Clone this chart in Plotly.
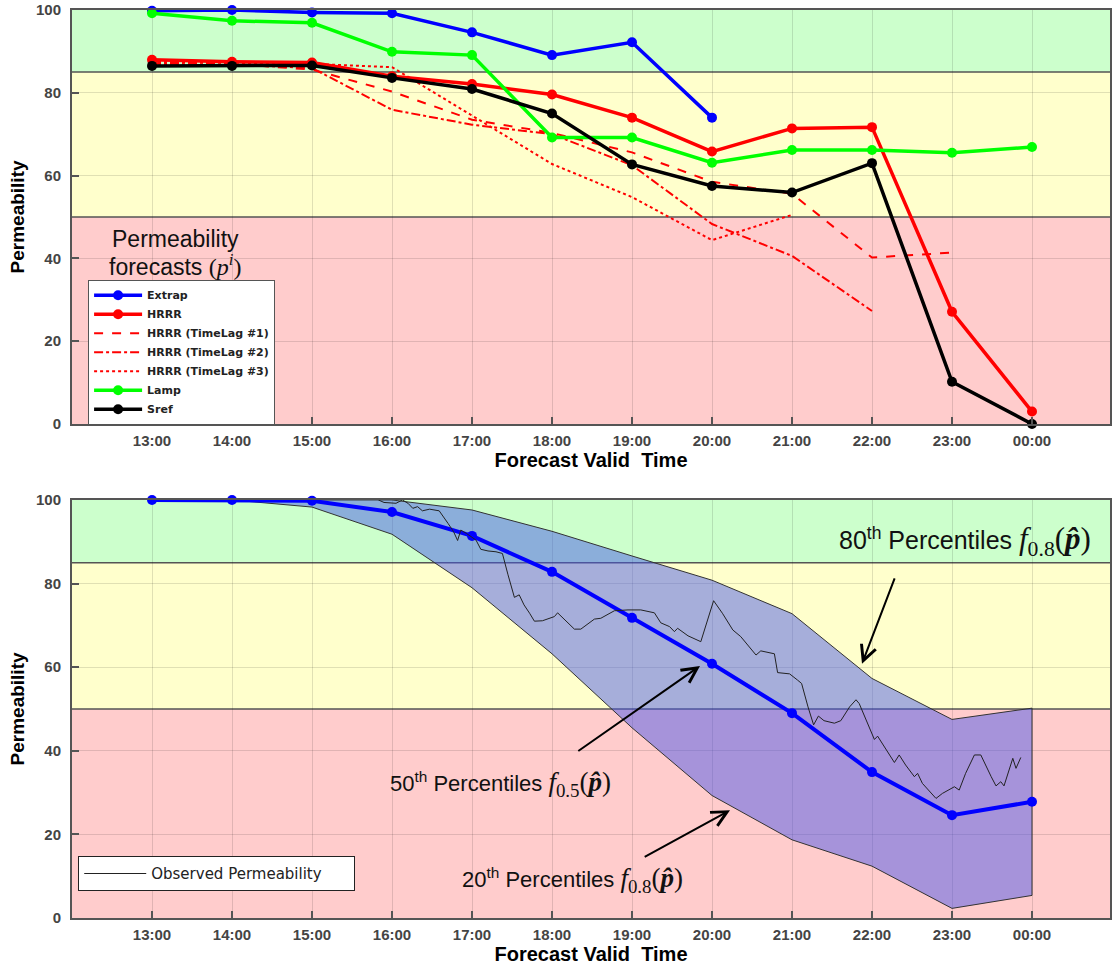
import plotly.graph_objects as go

# ---------------- data ----------------
hours = [13, 14, 15, 16, 17, 18, 19, 20, 21, 22, 23, 24]
tick_labels = ["13:00", "14:00", "15:00", "16:00", "17:00", "18:00",
               "19:00", "20:00", "21:00", "22:00", "23:00", "00:00"]

extrap = [99.8, 100.0, 99.4, 99.2, 94.6, 89.1, 92.2, 74.0]
hrrr = [88.0, 87.5, 87.3, 84.0, 82.1, 79.6, 74.0, 65.8, 71.4, 71.7, 27.1, 3.0]
hrrr_tl1 = [87.5, 87.0, 85.6, 80.3, 73.5, 70.3, 65.6, 58.5, 55.6, 40.2, 41.4]
hrrr_tl2 = [87.0, 86.8, 86.0, 75.9, 72.3, 70.0, 62.5, 48.3, 40.6, 27.3]
hrrr_tl3 = [87.5, 87.2, 87.0, 86.2, 74.5, 62.8, 54.8, 44.4, 50.5]
lamp = [99.2, 97.4, 96.9, 89.9, 89.1, 69.2, 69.2, 63.1, 66.2, 66.2, 65.5, 66.9]
sref = [86.5, 86.5, 86.6, 83.6, 80.9, 75.0, 62.7, 57.5, 55.9, 63.0, 10.2, 0.0]

median_p = [100.0, 100.0, 99.8, 97.1, 91.4, 82.8, 71.8, 60.8, 49.0, 34.9, 24.6, 27.8]
band_hours = [14, 15, 16, 17, 18, 19, 20, 21, 22, 23, 24]
p80 = [100.0, 100.0, 100.0, 97.6, 92.5, 86.6, 80.8, 72.8, 57.3, 47.5, 50.2]
p20 = [100.0, 98.3, 91.8, 79.0, 63.2, 45.5, 29.3, 18.7, 12.4, 2.3, 5.4]

obs_hours = [15.83, 15.90, 16.05, 16.13, 16.20, 16.26, 16.32, 16.38, 16.47, 16.59,
             16.70, 16.77, 16.82, 16.86, 16.93, 16.99, 17.05, 17.11, 17.20, 17.30,
             17.38, 17.45, 17.53, 17.59, 17.65, 17.72, 17.78, 17.88, 18.03, 18.07,
             18.18, 18.28, 18.36, 18.53, 18.61, 18.78, 18.95, 19.11, 19.28, 19.36,
             19.47, 19.53, 19.57, 19.70, 19.86, 20.02, 20.13, 20.26, 20.36, 20.55,
             20.61, 20.78, 20.82, 20.97, 21.07, 21.12, 21.20, 21.27, 21.33, 21.40,
             21.53, 21.61, 21.72, 21.80, 21.84, 22.03, 22.07, 22.28, 22.34, 22.42,
             22.53, 22.57, 22.63, 22.72, 22.80, 22.88, 23.03, 23.09, 23.17, 23.28,
             23.36, 23.49, 23.55, 23.61, 23.65, 23.76, 23.80, 23.86]
obs_values = [100.0, 99.4, 99.2, 100.0, 99.2, 98.0, 98.4, 97.4, 97.8, 97.4,
              94.4, 92.4, 90.3, 92.8, 92.0, 91.2, 90.4, 88.2, 87.8, 87.6,
              87.2, 82.1, 76.7, 77.3, 74.9, 72.9, 71.0, 71.1, 72.1, 73.0,
              70.9, 69.1, 69.1, 71.5, 71.7, 73.5, 73.7, 73.7, 73.0, 70.6,
              69.7, 68.5, 69.3, 67.5, 66.1, 75.9, 72.9, 68.9, 67.3, 62.9,
              63.9, 63.2, 58.7, 58.4, 56.9, 56.1, 50.5, 46.2, 48.3, 47.2,
              46.6, 47.2, 50.5, 52.2, 51.3, 42.7, 43.5, 37.2, 39.0, 36.6,
              33.8, 34.6, 32.2, 30.2, 28.6, 29.8, 31.4, 30.6, 34.6, 39.0,
              39.0, 33.8, 31.6, 32.6, 31.6, 38.2, 35.8, 38.4]

zones = [(85, 100, "#CCFFCC"), (50, 85, "#FFFFCC"), (0, 50, "#FFCCCC")]
zone_lines = [85, 50]

# ---------------- figure ----------------
fig = go.Figure()

def main_line(name, y, color):
    return go.Scatter(x=hours[:len(y)], y=y, name=name, mode="lines+markers",
                      line=dict(color=color, width=3.5),
                      marker=dict(color=color, size=10),
                      cliponaxis=False, xaxis="x", yaxis="y", legend="legend")

def lag_line(name, y, dash):
    return go.Scatter(x=hours[:len(y)], y=y, name=name, mode="lines",
                      line=dict(color="#FF0000", width=2, dash=dash),
                      xaxis="x", yaxis="y", legend="legend")

fig.add_trace(main_line("Extrap", extrap, "#0000FF"))
fig.add_trace(main_line("HRRR", hrrr, "#FF0000"))
fig.add_trace(lag_line("HRRR (TimeLag #1)", hrrr_tl1, "dash"))
fig.add_trace(lag_line("HRRR (TimeLag #2)", hrrr_tl2, "dashdot"))
fig.add_trace(lag_line("HRRR (TimeLag #3)", hrrr_tl3, "dot"))
fig.add_trace(main_line("Lamp", lamp, "#00FF00"))
fig.add_trace(main_line("Sref", sref, "#000000"))

# bottom panel
fig.add_trace(go.Scatter(x=band_hours + band_hours[::-1], y=p80 + p20[::-1],
                         mode="lines", fill="toself",
                         fillcolor="rgba(70,85,235,0.48)",
                         line=dict(color="#333333", width=1),
                         showlegend=False, xaxis="x2", yaxis="y2"))
fig.add_trace(go.Scatter(x=hours, y=median_p, mode="lines+markers",
                         line=dict(color="#0000FF", width=4),
                         marker=dict(color="#0000FF", size=10),
                         cliponaxis=False, showlegend=False,
                         xaxis="x2", yaxis="y2"))
fig.add_trace(go.Scatter(x=obs_hours, y=obs_values, mode="lines",
                         name="Observed Permeability",
                         line=dict(color="#222222", width=1),
                         xaxis="x2", yaxis="y2", legend="legend2"))

# zones
shapes = []
for xr, yr in (("x domain", "y"), ("x2 domain", "y2")):
    for y0, y1, c in zones:
        shapes.append(dict(type="rect", xref=xr, yref=yr, x0=0, x1=1, y0=y0, y1=y1,
                           fillcolor=c, line=dict(width=0), layer="below"))
    for yl in zone_lines:
        shapes.append(dict(type="line", xref=xr, yref=yr, x0=0, x1=1, y0=yl, y1=yl,
                           line=dict(color="#555555", width=1.5), layer="below"))

tickfont = dict(family="Liberation Sans", size=15, color="#444444", weight="bold")
xcommon = dict(range=[12, 24.975], tickvals=hours, ticktext=tick_labels,
               ticks="inside", ticklen=7, tickwidth=1.5, tickcolor="#555555",
               showline=True, linecolor="#555555", linewidth=2, mirror=True,
               showgrid=True, gridcolor="rgba(0,0,0,0.12)", gridwidth=1,
               zeroline=False, tickfont=tickfont, ticklabelstandoff=2,
               automargin=False,
               title=dict(text="Forecast Valid\u00a0 Time", standoff=0,
                          font=dict(family="Liberation Sans", size=20,
                                    color="#000000", weight="bold")))
ycommon = dict(range=[0, 100], tickvals=[0, 20, 40, 60, 80, 100],
               ticks="inside", ticklen=7, tickwidth=1.5, tickcolor="#555555",
               showline=True, linecolor="#555555", linewidth=2, mirror=True,
               showgrid=True, gridcolor="rgba(0,0,0,0.12)", gridwidth=1,
               zeroline=False, tickfont=tickfont, ticklabelstandoff=6,
               automargin=False,
               title=dict(text="Permeability", standoff=6,
                          font=dict(family="Liberation Sans", size=19,
                                    color="#000000", weight="bold")))

def pct_text(n, sub, serif_size):
    serif = f"font-family:Liberation Serif;font-size:{serif_size}px"
    return (f"{n}<sup>th</sup> Percentiles "
            f"<span style='{serif}'><i>f</i><sub>{sub}</sub>(<b><i>p\u0302</i></b>)</span>")

annfont = dict(family="Liberation Sans", size=22, color="#111111")
bigfont = dict(family="Liberation Sans", size=25, color="#111111")
topfont = dict(family="Liberation Sans", size=23, color="#111111")
annotations = [
    dict(text="Permeability", x=13.29, y=44.6, xref="x", yref="y",
         showarrow=False, font=topfont),
    dict(text="forecasts <span style='font-family:Liberation Serif;font-size:24px'>"
              "(<i>p</i><sup><i>i</i></sup>)</span>",
         x=13.29, y=38.3, xref="x", yref="y", showarrow=False, font=topfont),
    dict(text=pct_text(80, "0.8", 31), x=23.16, y=90.2, xref="x2", yref="y2",
         showarrow=False, font=bigfont),
    dict(text=pct_text(50, "0.5", 27), x=17.35, y=32.1, xref="x2", yref="y2",
         showarrow=False, font=annfont),
    dict(text=pct_text(20, "0.8", 27), x=18.25, y=9.1, xref="x2", yref="y2",
         showarrow=False, font=annfont),
]
arrows = [((21.875, 60.8), (22.29, 81.6)),
          ((19.85, 60.3), (18.31, 39.7)),
          ((20.225, 25.8), (19.14, 14.4))]
for (hx, hy), (tx, ty) in arrows:
    annotations.append(dict(text="", x=hx, y=hy, ax=tx, ay=ty, xref="x2", yref="y2",
                            axref="x2", ayref="y2", showarrow=True, arrowhead=5,
                            arrowsize=1.5, arrowwidth=2, arrowcolor="#000000"))

fig.update_layout(
    width=1112, height=966,
    margin=dict(l=72, r=2, t=10, b=48, autoexpand=False),
    paper_bgcolor="#FFFFFF", plot_bgcolor="#FFFFFF",
    xaxis=dict(xcommon, anchor="y", domain=[0, 1]),
    yaxis=dict(ycommon, anchor="x", domain=[0.5441, 1.0]),
    xaxis2=dict(xcommon, anchor="y2", domain=[0, 1]),
    yaxis2=dict(ycommon, anchor="x2", domain=[0.0, 0.4604]),
    shapes=shapes, annotations=annotations,
    legend=dict(x=0.0155, y=0.703, xanchor="left", yanchor="top",
                bgcolor="#FFFFFF", bordercolor="#555555", borderwidth=1,
                itemwidth=48, tracegroupgap=0,
                font=dict(family="DejaVu Sans", size=11, color="#222222", weight="bold")),
    legend2=dict(x=0.006, y=0.068, xanchor="left", yanchor="top",
                 orientation="h", entrywidth=198,
                 bgcolor="#FFFFFF", bordercolor="#222222", borderwidth=1,
                 itemwidth=62,
                 font=dict(family="DejaVu Sans", size=15, color="#222222")),
    showlegend=True,
)

# remove the browser's default 8 px body margin so the figure fills the window
fig.write_html("out.html",
               config={"displayModeBar": False},
               post_script="document.body.style.margin='0px';"
                           "document.body.style.overflow='hidden';")
